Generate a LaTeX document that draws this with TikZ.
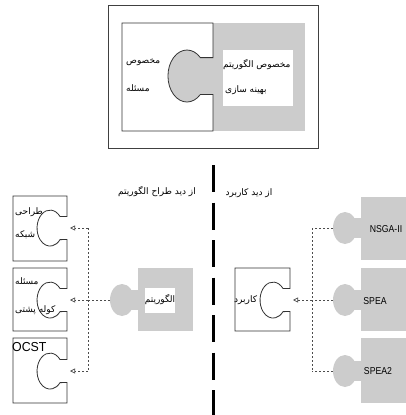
\documentclass[tikz,border=0pt]{standalone}
\usepackage{fontspec}
\setmainfont{Liberation Sans}
\newfontfamily\fa[Script=Arabic]{DejaVu Sans}
\TeXXeTstate=1
\usetikzlibrary{arrows.meta}

\newcommand{\sockbox}[5]{%
  \draw[piece] (#1,#2) -- (#3,#2) -- (#3,#5-11.5) -- (#3-7,#5-11.5)
    arc[start angle=-40,end angle=-320,x radius=13,y radius=18]
    -- (#3,#5+11.5) -- (#3,#4) -- (#1,#4) -- cycle;}
\newcommand{\knobpiece}[5]{%
  \fill[gpiece] (#1,#2) rectangle (#3,#4);
  \fill[gpiece] (#1-10,#5-10) rectangle (#1,#5+10);
  \fill[gpiece] (#1-16,#5) ellipse [x radius=12,y radius=16];}

\begin{document}
\begin{tikzpicture}[x=1pt,y=-1pt,
  piece/.style={draw=black!80,line width=0.8pt,fill=white},
  gpiece/.style={fill=black!20},
  fatext/.style={font=\fa\fontsize{9}{11}\selectfont,inner sep=0pt},
  latext/.style={font=\fontsize{10}{12}\selectfont,inner sep=0pt,xscale=0.87},
  link/.style={draw=black!70,dash pattern=on 2pt off 2pt,line width=0.7pt},
  arr/.style={link,-{Triangle[open,length=5pt,width=5pt]}}]

\useasboundingbox (0,0) rectangle (406,415);

\draw[draw=black!75,line width=1pt] (108,5) rectangle (318,148);
\fill[gpiece] (213,23) rectangle (305,131);
\fill[gpiece] (195,57.6) rectangle (213,94.4);
\fill[gpiece] (187,76) ellipse [x radius=19,y radius=26];
\draw[draw=black!80,line width=0.8pt] (213,57.6) -- (213,23) -- (122,23) -- (122,131)
  -- (213,131) -- (213,94.4) -- (200.4,94.4)
  arc[start angle=45,end angle=315,x radius=19,y radius=26] -- cycle;
\fill[white] (223,50) rectangle (293,106);

\node[fatext,anchor=west] (prob1) at (126,62) {\beginR مخصوص\endR};
\node[fatext,anchor=west] (prob2) at (126,88) {\beginR مسئله\endR};
\node[fatext,anchor=west] (algo1) at (223,65) {\beginR مخصوص الگوریتم\endR};
\node[fatext,anchor=west] (algo2) at (225,90) {\beginR بهینه سازی\endR};

\draw[line width=3pt,dash pattern=on 27pt off 10.5pt] (213,165) -- (213,415);
\node[fatext] (designer) at (157,192) {\beginR از دید طراح الگوریتم\endR};
\node[fatext] (user) at (249,193) {\beginR از دید کاربرد\endR};

\sockbox{13}{196}{67}{261}{228}
\sockbox{13}{268}{67}{331}{300}
\sockbox{13}{338}{67}{403}{371}
\sockbox{235}{268}{290}{331}{300}

\node[fatext,anchor=west] (net1) at (15,212) {\beginR طراحی\endR};
\node[fatext,anchor=west] (net2) at (15,235) {\beginR شبکه\endR};
\node[fatext,anchor=west] (knap1) at (15,281) {\beginR مسئله\endR};
\node[fatext,anchor=west] (knap2) at (15,310) {\beginR کوله پشتی\endR};
\node[font=\fontsize{13}{15}\selectfont,inner sep=0pt,anchor=west,xscale=0.95] (ocst) at (12,347) {OCST};
\node[fatext,anchor=west] (app) at (234,300) {\beginR کاربرد\endR};

\knobpiece{138}{268}{193}{331}{300}
\fill[white] (145,288) rectangle (175,313);
\node[fatext] (alg) at (160,300) {\beginR الگوریتم\endR};

\knobpiece{361}{197}{406}{260}{228}
\knobpiece{361}{268}{406}{331}{300}
\knobpiece{361}{338}{406}{403}{371}
\node[latext] (nsga) at (386,229) {NSGA-II};
\node[latext] (spea) at (375,301) {SPEA};
\node[latext] (spea2) at (378,371) {SPEA2};

\coordinate (netin) at (70,228);
\coordinate (knapin) at (70,300);
\coordinate (ocstin) at (70,371);
\coordinate (lbus1) at (88,228);
\coordinate (lbus2) at (88,300);
\coordinate (lbus3) at (88,371);
\coordinate (algtip) at (110,300);
\draw[link] (lbus1) -- (lbus3);
\draw[arr] (lbus1) -- (netin);
\draw[arr] (lbus2) -- (knapin);
\draw[arr] (lbus3) -- (ocstin);
\draw[link] (algtip) -- (lbus2);

\coordinate (appin) at (293,300);
\coordinate (rbus1) at (312,228);
\coordinate (rbus2) at (312,300);
\coordinate (rbus3) at (312,371);
\coordinate (nsgatip) at (333,228);
\coordinate (speatip) at (333,300);
\coordinate (spea2tip) at (333,371);
\draw[link] (rbus1) -- (rbus3);
\draw[link] (nsgatip) -- (rbus1);
\draw[link] (speatip) -- (rbus2);
\draw[link] (spea2tip) -- (rbus3);
\draw[arr] (rbus2) -- (appin);
\end{tikzpicture}
\end{document}
